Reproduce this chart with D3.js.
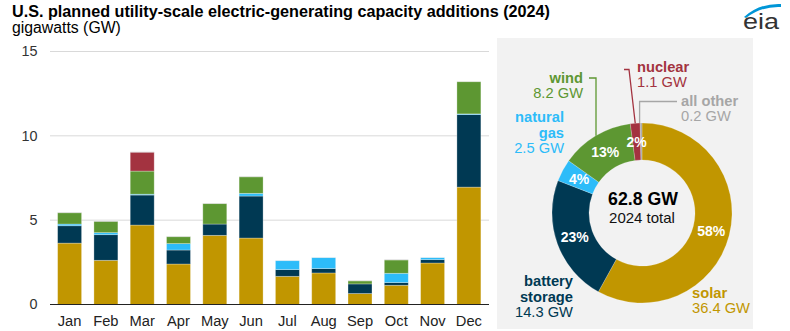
<!DOCTYPE html>
<html>
<head>
<meta charset="utf-8">
<script src="https://cdn.jsdelivr.net/npm/d3@7"></script>
<style>
  body { margin: 0; background: #fff; }
  svg { display: block; font-family: "Liberation Sans", Arial, sans-serif; }
</style>
</head>
<body>
<svg id="chart" width="790" height="331"></svg>
<script>
// monthly planned additions, GW
const months = ["Jan", "Feb", "Mar", "Apr", "May", "Jun", "Jul", "Aug", "Sep", "Oct", "Nov", "Dec"];
const solar      = [3.64, 2.62, 4.71, 2.40, 4.10, 3.94, 1.67, 1.87, 0.65, 1.14, 2.46, 6.96];
const battery    = [1.03, 1.52, 1.78, 0.83, 0.67, 2.49, 0.40, 0.26, 0.57, 0.16, 0.20, 4.30];
const naturalGas = [0.10, 0.12, 0.05, 0.38, 0.00, 0.16, 0.53, 0.65, 0.00, 0.55, 0.12, 0.04];
const wind       = [0.67, 0.67, 1.37, 0.41, 1.21, 0.98, 0.00, 0.00, 0.18, 0.79, 0.00, 1.91];
const nuclear    = [0, 0, 1.12, 0, 0, 0, 0, 0, 0, 0, 0, 0];
const allOther   = [0.02, 0.02, 0.02, 0.02, 0.02, 0.02, 0.01, 0.01, 0.02, 0.02, 0.01, 0.01];
const yTicks = [0, 5, 10, 15];

// annual totals for the donut
const donutTypes = ["solar", "battery", "gas", "wind", "nuclear", "other"];
const donutGW = [36.4, 14.3, 2.5, 8.2, 1.1, 0.2];
const totalGW = 62.8;

const colors = {
  solar: "#c19600", battery: "#003953", gas: "#2dbcf9",
  wind: "#5d9732", nuclear: "#a33340", other: "#a6a6a6"
};

const svg = d3.select("#chart");

// title
svg.append("text").attr("x", 12).attr("y", 17)
  .attr("font-size", 16.2).attr("font-weight", "bold").attr("fill", "#000")
  .text("U.S. planned utility-scale electric-generating capacity additions (2024)");
svg.append("text").attr("x", 12).attr("y", 33)
  .attr("font-size", 15.8).attr("fill", "#000")
  .text("gigawatts (GW)");

// eia logo
const logo = svg.append("g");
logo.append("path")
  .attr("d", "M744,17 Q760,3 781,4 L781,7 Q762,6 746,18 Z")
  .attr("fill", "#0096d7");
logo.append("text").attr("x", 743).attr("y", 29)
  .attr("font-size", 22).attr("fill", "#333")
  .attr("textLength", 36).attr("lengthAdjust", "spacingAndGlyphs")
  .text("eia");

// ---- stacked bars ----
const series = { solar, battery, gas: naturalGas, wind, nuclear, other: allOther };
const keys = ["solar", "battery", "gas", "wind", "nuclear", "other"];
const table = months.map((m, i) => {
  const row = { month: m };
  keys.forEach(k => row[k] = series[k][i]);
  return row;
});
const stacked = d3.stack().keys(keys)(table);

const x = d3.scaleBand().domain(months).range([52, 486.5])
  .paddingInner(0.34).paddingOuter(0.155);
const y = d3.scaleLinear().domain([0, 15]).range([304.5, 51.5]);

svg.append("g").selectAll("line").data(yTicks.filter(t => t > 0)).join("line")
  .attr("x1", 50).attr("x2", 489)
  .attr("y1", d => y(d)).attr("y2", d => y(d))
  .attr("stroke", "#d9d9d9").attr("stroke-width", 1);

svg.append("g").selectAll("text").data(yTicks).join("text")
  .attr("x", 37.5).attr("y", d => y(d) + 4.8)
  .attr("text-anchor", "end").attr("font-size", 14.4).attr("fill", "#333")
  .text(d => d);

svg.append("g").selectAll("g").data(stacked).join("g")
  .attr("fill", d => colors[d.key])
  .selectAll("rect").data(d => d).join("rect")
  .attr("x", d => x(d.data.month))
  .attr("width", x.bandwidth())
  .attr("y", d => y(d[1]))
  .attr("height", d => Math.max(0, y(d[0]) - y(d[1])))
  .attr("stroke", "rgba(255,255,255,0.35)").attr("stroke-width", 0.8);

svg.append("line").attr("x1", 50).attr("x2", 489)
  .attr("y1", y(0)).attr("y2", y(0))
  .attr("stroke", "#222").attr("stroke-width", 1.2);

svg.append("g").selectAll("text").data(months).join("text")
  .attr("x", d => x(d) + x.bandwidth() / 2).attr("y", 326)
  .attr("text-anchor", "middle").attr("font-size", 14.7).attr("fill", "#222")
  .text(d => d);

// ---- donut panel ----
svg.append("rect").attr("x", 497).attr("y", 38).attr("width", 256).attr("height", 291)
  .attr("fill", "#f2f2f2");

const cx = 642, cy = 213, rOuter = 90, rInner = 53;
const pieData = d3.pie().sort(null).value(d => d.gw)(
  donutTypes.map((t, i) => ({ type: t, gw: donutGW[i] }))
);
const arc = d3.arc().innerRadius(rInner).outerRadius(rOuter);
const labelArc = d3.arc().innerRadius((rInner + rOuter) / 2).outerRadius((rInner + rOuter) / 2);

const donut = svg.append("g").attr("transform", `translate(${cx},${cy})`);
donut.selectAll("path").data(pieData).join("path")
  .attr("d", arc)
  .attr("fill", d => colors[d.data.type])
  .attr("stroke", "rgba(255,255,255,0.4)").attr("stroke-width", 0.5);

donut.selectAll("text.pct").data(pieData.filter(d => d.data.gw / totalGW >= 0.01)).join("text")
  .attr("class", "pct")
  .attr("x", d => labelArc.centroid(d)[0])
  .attr("y", d => labelArc.centroid(d)[1] + 5)
  .attr("text-anchor", "middle").attr("font-size", 14).attr("font-weight", "bold")
  .attr("fill", "#fff")
  .text(d => Math.round(d.data.gw / totalGW * 100) + "%");

donut.append("text").attr("x", 1).attr("y", -8).attr("text-anchor", "middle")
  .attr("font-size", 17.7).attr("font-weight", "bold").attr("fill", "#000")
  .text(d3.format(".1f")(totalGW) + " GW");
donut.append("text").attr("x", 0).attr("y", 10).attr("text-anchor", "middle")
  .attr("font-size", 15).attr("fill", "#111")
  .text("2024 total");

// outside labels: name lines (bold) then value line
const labelNames = {
  solar: ["solar"], battery: ["battery", "storage"], gas: ["natural", "gas"],
  wind: ["wind"], nuclear: ["nuclear"], other: ["all other"]
};
const labelPos = {
  solar:   { x: 692, y: 298, anchor: "start" },
  battery: { x: 573, y: 286, anchor: "end" },
  gas:     { x: 564, y: 122, anchor: "end" },
  wind:    { x: 583, y: 83,  anchor: "end" },
  nuclear: { x: 637, y: 72,  anchor: "start" },
  other:   { x: 681, y: 106, anchor: "start" }
};
const lineH = 16;
pieData.forEach(d => {
  const t = d.data.type, p = labelPos[t];
  const g = svg.append("text").attr("x", p.x).attr("y", p.y)
    .attr("text-anchor", p.anchor).attr("font-size", 14.7).attr("fill", colors[t]);
  const names = labelNames[t];
  names.forEach((n, i) => {
    g.append("tspan").attr("x", p.x).attr("y", p.y + i * lineH)
      .attr("font-weight", "bold").text(n);
  });
  g.append("tspan").attr("x", p.x).attr("y", p.y + names.length * lineH - 1)
    .text(d3.format(".1f")(d.data.gw) + " GW");
});

// leader lines
const ringTop = xx => cy - Math.sqrt(rOuter * rOuter - (xx - cx) * (xx - cx));
const midPoint = d => {
  const a = (d.startAngle + d.endAngle) / 2;
  return [cx + rOuter * Math.sin(a), cy - rOuter * Math.cos(a)];
};
const byType = t => pieData.find(d => d.data.type === t);

const windX = 596;
svg.append("path")
  .attr("d", `M589,78 H${windX} V${ringTop(windX)}`)
  .attr("fill", "none").attr("stroke", colors.wind).attr("stroke-width", 1.3);

const nucEnd = midPoint(byType("nuclear"));
svg.append("path")
  .attr("d", `M624,69.5 H629 L${nucEnd[0]},${nucEnd[1]}`)
  .attr("fill", "none").attr("stroke", colors.nuclear).attr("stroke-width", 1.3);

const othEnd = midPoint(byType("other"));
svg.append("path")
  .attr("d", `M677,101.5 H${othEnd[0] - 1.5} V${othEnd[1]}`)
  .attr("fill", "none").attr("stroke", colors.other).attr("stroke-width", 1.3);
</script>
</body>
</html>
